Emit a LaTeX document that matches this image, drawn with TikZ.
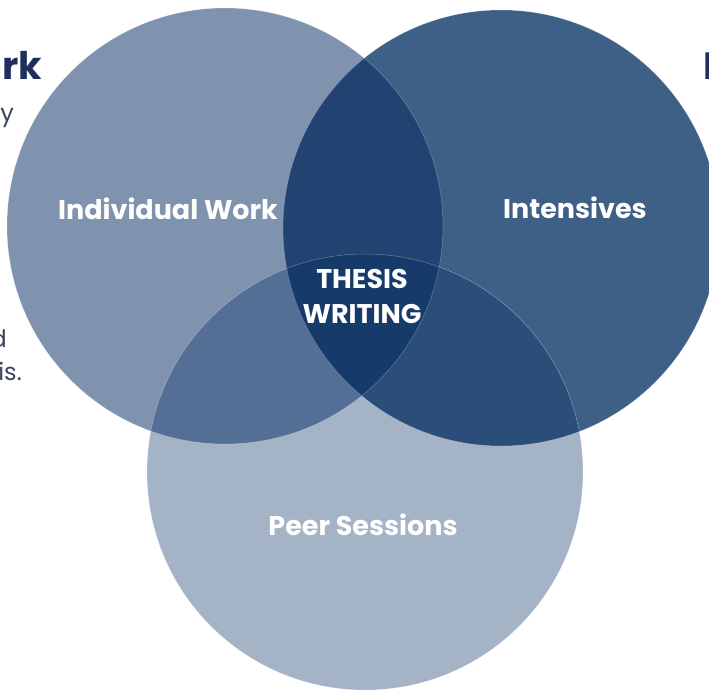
\documentclass[tikz,border=0pt]{standalone}
\usepackage{fontspec}
\setmainfont{Poppins}
\definecolor{cL}{HTML}{7F93AF}
\definecolor{cR}{HTML}{3F6086}
\definecolor{cB}{HTML}{A5B3C7}
\definecolor{cLR}{HTML}{224371}
\definecolor{cLB}{HTML}{536F95}
\definecolor{cRB}{HTML}{2A4E79}
\definecolor{cC}{HTML}{163A69}
\definecolor{navy}{HTML}{1F2E5C}
\definecolor{bodytxt}{HTML}{3C475A}
\tikzset{
  circlabel/.style={text=white, font=\bfseries\fontsize{27}{32}\selectfont, inner sep=0pt},
  heading/.style={text=navy, font=\bfseries\fontsize{38}{46}\selectfont, inner sep=0pt},
  bodyfrag/.style={text=bodytxt, font=\fontsize{24}{30}\selectfont, inner sep=0pt},
  rim/.style={draw=white, draw opacity=0.3, line width=0.5pt}
}
\begin{document}
\begin{tikzpicture}[x=1pt,y=-1pt]
\useasboundingbox (0,0) rectangle (709,690);
\clip (0,0) rectangle (709,690);
\fill[white] (0,0) rectangle (709,690);
\coordinate (L) at (225,226);
\coordinate (R) at (501,228);
\coordinate (B) at (365,472);
\fill[cL] (L) circle[radius=218pt];
\fill[cR] (R) circle[radius=218pt];
\fill[cB] (B) circle[radius=218pt];
\begin{scope}
  \clip (L) circle[radius=218pt];
  \fill[cLR] (R) circle[radius=218pt];
\end{scope}
\begin{scope}
  \clip (L) circle[radius=218pt];
  \fill[cLB] (B) circle[radius=218pt];
\end{scope}
\begin{scope}
  \clip (R) circle[radius=218pt];
  \fill[cRB] (B) circle[radius=218pt];
\end{scope}
\begin{scope}
  \clip (L) circle[radius=218pt];
  \clip (R) circle[radius=218pt];
  \fill[cC] (B) circle[radius=218pt];
\end{scope}
\draw[rim] (L) circle[radius=218pt];
\draw[rim] (R) circle[radius=218pt];
\draw[rim] (B) circle[radius=218pt];

\node[circlabel, anchor=base] (iw) at (168,219) {Individual Work};
\node[circlabel, anchor=base] (in) at (575,218) {Intensives};
\node[circlabel, anchor=base] (ps) at (363,535) {Peer Sessions};
\node[circlabel, anchor=base] (tw1) at (362,288) {THESIS};
\node[circlabel, anchor=base] (tw2) at (362,323) {WRITING};

\node[heading, anchor=base east] (h1) at (42,80) {ork};
\node[heading, anchor=base west] (h2) at (703,80) {I};
\node[bodyfrag, anchor=base east] (b1) at (14,122) {y};
\node[bodyfrag, anchor=base east] (b2) at (7,347) {d};
\node[bodyfrag, anchor=base east] (b3) at (22,380) {is.};
\end{tikzpicture}
\end{document}
